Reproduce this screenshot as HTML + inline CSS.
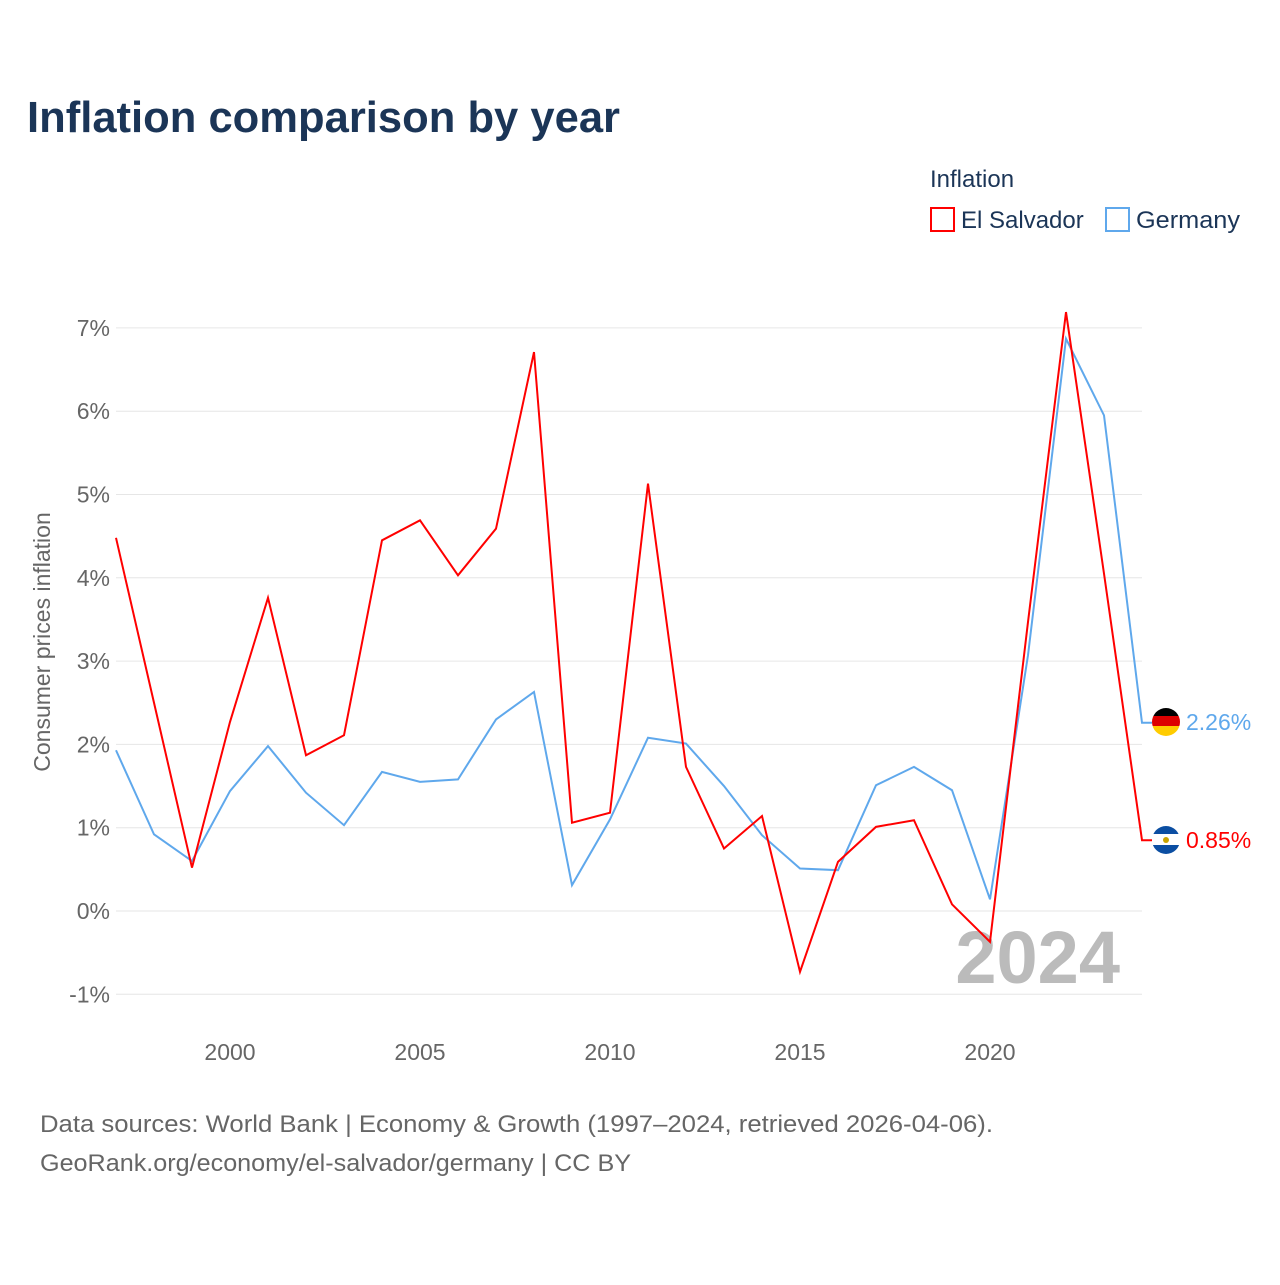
<!DOCTYPE html>
<html><head><meta charset="utf-8"><style>
body{margin:0;background:#fff;font-family:"Liberation Sans",sans-serif}
</style></head><body>
<svg width="1280" height="1280" xmlns="http://www.w3.org/2000/svg" font-family="Liberation Sans, sans-serif">
<text x="27" y="132" font-size="44" font-weight="bold" fill="#1b3557" textLength="593" lengthAdjust="spacingAndGlyphs">Inflation comparison by year</text>
<text x="930" y="187" font-size="24" fill="#1b3557">Inflation</text>
<g><rect x="931" y="208" width="23" height="23" fill="none" stroke="red" stroke-width="2"/><text x="961" y="228" font-size="24" fill="#1b3557">El Salvador</text></g>
<g><rect x="1106" y="208" width="23" height="23" fill="none" stroke="#5fa8ec" stroke-width="2"/><text x="1136" y="228" font-size="24" fill="#1b3557" textLength="104" lengthAdjust="spacingAndGlyphs">Germany</text></g>
<text transform="translate(50,642) rotate(-90)" text-anchor="middle" font-size="23" fill="#666">Consumer prices inflation</text>
<g id="grid"></g><g id="xt"></g>
<text x="1120" y="983" text-anchor="end" font-size="74" font-weight="bold" fill="#bbb">2024</text>
<g id="lines"></g>
<g>
<clipPath id="c1"><circle cx="1166" cy="722" r="14"/></clipPath>
<g clip-path="url(#c1)"><rect x="1150" y="706" width="32" height="10" fill="#000"/><rect x="1150" y="716" width="32" height="10" fill="#d00"/><rect x="1150" y="726" width="32" height="12" fill="#fc0"/></g>
<text x="1186" y="730" font-size="23" fill="#5fa8ec">2.26%</text></g>
<g>
<clipPath id="c2"><circle cx="1166" cy="840" r="14"/></clipPath>
<g clip-path="url(#c2)"><rect x="1150" y="824" width="32" height="10" fill="#0b4ea2"/><rect x="1150" y="834" width="32" height="11" fill="#fff"/><rect x="1150" y="845" width="32" height="12" fill="#0b4ea2"/><circle cx="1166" cy="840" r="3" fill="#c9a400"/></g>
<text x="1186" y="848" font-size="23" fill="red">0.85%</text></g>
<text x="40" y="1132" font-size="24" fill="#666" textLength="953" lengthAdjust="spacingAndGlyphs">Data sources: World Bank | Economy &amp; Growth (1997–2024, retrieved 2026-04-06).</text>
<text x="40" y="1171" font-size="24" fill="#666" textLength="591" lengthAdjust="spacingAndGlyphs">GeoRank.org/economy/el-salvador/germany | CC BY</text>
</svg>
<script>
const years=[1997,1998,1999,2000,2001,2002,2003,2004,2005,2006,2007,2008,2009,2010,2011,2012,2013,2014,2015,2016,2017,2018,2019,2020,2021,2022,2023,2024];
const elSalvador=[4.48,2.5,0.52,2.27,3.76,1.87,2.11,4.45,4.69,4.03,4.59,6.71,1.06,1.18,5.13,1.73,0.75,1.14,-0.73,0.59,1.01,1.09,0.08,-0.37,3.47,7.19,4.05,0.85];
const germany=[1.93,0.92,0.6,1.44,1.98,1.42,1.03,1.67,1.55,1.58,2.3,2.63,0.31,1.1,2.08,2.01,1.5,0.91,0.51,0.49,1.51,1.73,1.45,0.14,3.07,6.87,5.95,2.26];
const yTicks=[-1,0,1,2,3,4,5,6,7];
const xTicks=[2000,2005,2010,2015,2020];
const ns="http://www.w3.org/2000/svg";
const X=y=>116+(y-1997)*38, Y=v=>911-v*83.3;
const grid=document.getElementById('grid');
yTicks.forEach(t=>{
 const l=document.createElementNS(ns,'line');
 l.setAttribute('x1',116);l.setAttribute('x2',1142);l.setAttribute('y1',Y(t));l.setAttribute('y2',Y(t));
 l.setAttribute('stroke','#e6e6e6');l.setAttribute('stroke-width',1);
 
 
 grid.appendChild(l);
 const tx=document.createElementNS(ns,'text');
 tx.setAttribute('x',110);tx.setAttribute('y',Y(t)+8);tx.setAttribute('text-anchor','end');
 tx.setAttribute('font-size',23);tx.setAttribute('fill','#666');tx.textContent=t+'%';
 
 
 grid.appendChild(tx);
});
const xt=document.getElementById('xt');
xTicks.forEach(t=>{
 const tx=document.createElementNS(ns,'text');
 tx.setAttribute('x',X(t));tx.setAttribute('y',1060);tx.setAttribute('text-anchor','middle');
 tx.setAttribute('font-size',23);tx.setAttribute('fill','#666');tx.textContent=t;
 
 
 xt.appendChild(tx);
});
const lines=document.getElementById('lines');
function draw(vals,color,name){
 let pts=vals.map((v,i)=>X(years[i])+','+Y(v));
 pts.push((X(years[years.length-1])+10)+','+Y(vals[vals.length-1]));
 const p=document.createElementNS(ns,'polyline');
 p.setAttribute('points',pts.join(' '));p.setAttribute('fill','none');
 p.setAttribute('stroke',color);p.setAttribute('stroke-width',2);
 
 
 lines.appendChild(p);
}
draw(germany,'#5fa8ec','germany-line');
draw(elSalvador,'red','el-salvador-line');
</script>
</body></html>
